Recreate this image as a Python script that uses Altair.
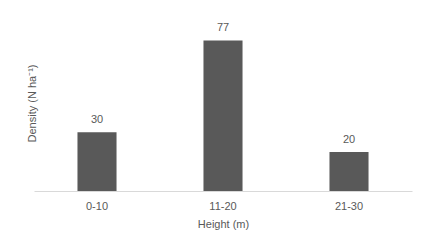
import altair as alt
import pandas as pd

categories = ["0-10", "11-20", "21-30"]
density = [30, 77, 20]

df = pd.DataFrame({"height": categories, "density": density})

FONT = "Liberation Sans"
GREY = "#595959"

base = alt.Chart(df).encode(
    x=alt.X("height:N", sort=categories,
            scale=alt.Scale(paddingInner=0.69, paddingOuter=0.345),
            axis=alt.Axis(title="Height (m)", labelAngle=0, ticks=False,
                          domainColor="#d9d9d9", domainWidth=1,
                          labelFont=FONT, labelFontSize=11, labelColor=GREY,
                          labelPadding=9, titleFont=FONT, titleFontSize=11,
                          titleFontWeight="normal", titleColor=GREY, titlePadding=7)),
    y=alt.Y("density:Q", scale=alt.Scale(domain=[0, 90], nice=False),
            axis=alt.Axis(title="Density (N ha⁻¹)", labels=False, ticks=False,
                          domain=False, grid=False, titleFont=FONT, titleFontSize=11,
                          titleFontWeight="normal", titleColor=GREY, titleX=3)),
)

bars = base.mark_bar().encode(color=alt.value(GREY))
text = base.mark_text(dy=-12, font=FONT, fontSize=11, baseline="middle").encode(
    text="density:Q", color=alt.value(GREY))

chart = (bars + text).properties(
    width=378, height=176,
    autosize=alt.AutoSizeParams(type="none"),
    padding={"left": 26, "top": 7, "right": 7, "bottom": 52},
).configure(background="white").configure_view(stroke=None)

chart.save("out.html", embed_options={"renderer": "svg", "actions": False})
